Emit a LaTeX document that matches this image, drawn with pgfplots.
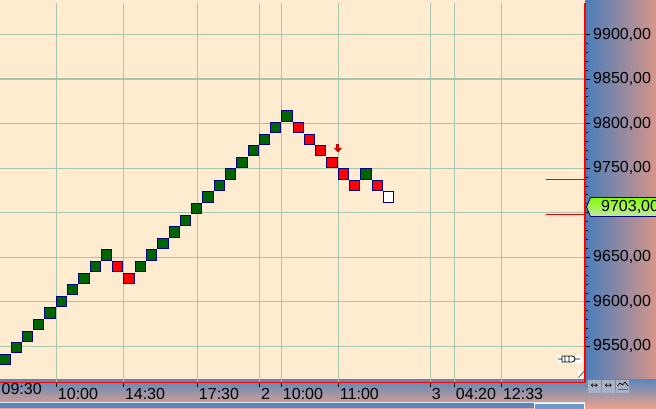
\documentclass[border=0pt]{standalone}
\usepackage{fontspec}
\setmainfont{Liberation Sans}
\newfontfamily\dejavu{DejaVu Sans}
\usepackage{pgfplots}
\pgfplotsset{compat=1.18}
\usetikzlibrary{arrows.meta}
\definecolor{bg}{HTML}{FFEBCF}
\definecolor{gridc}{HTML}{A6C6AE}
\definecolor{stripL}{HTML}{4A7DBA}
\definecolor{stripR}{HTML}{D6958A}
\definecolor{stripT}{HTML}{5787BC}
\definecolor{stripB}{HTML}{EAA28C}
\definecolor{navyb}{HTML}{000080}
\definecolor{rgreen}{HTML}{006400}
\definecolor{rred}{HTML}{FF0000}
\definecolor{arrowred}{HTML}{D00000}
\definecolor{tagtop}{HTML}{80FF00}
\definecolor{tagbot}{HTML}{C4E6A4}
\definecolor{btn}{HTML}{A9B3C6}
\begin{document}
\begin{tikzpicture}[x=1pt,y=1pt]
\useasboundingbox (0,0) rectangle (656,408);
\fill[bg] (0,0) rectangle (656,408);
\shade[left color=stripL, right color=stripR] (585,29) rectangle (656,408);
\shade[top color=stripT, bottom color=stripB] (0,0) rectangle (656,29);
\fill[stripT] (0,0) rectangle (585,6);
\draw[white!80!stripT, line width=0.8pt] (0,6) -- (585,6);
\begin{axis}[
  at={(0,29)}, anchor=south west,
  scale only axis, width=585pt, height=379pt,
  xmin=-0.443, xmax=51.42, ymin=9509.9, ymax=9935.1,
  axis x line*=bottom, axis y line*=right,
  axis line style={rred, line width=1.3pt},
  xtick={4.548,10.488,17.048,22.545,24.495,29.548,37.704,39.832,44.0},
  xticklabels={10:00,14:30,17:30,2,10:00,11:00,3,04:20,12:33},
  extra x ticks={-0.443},
  extra x tick labels={09:30},
  extra x tick style={grid=none, major tick length=0pt},
  ytick={9550,9600,9650,9700,9750,9800,9850,9900},
  yticklabels={{9550,00},{9600,00},{9650,00},{},{9750,00},{9800,00},{9850,00},{9900,00}},
  minor y tick num=4,
  xmajorgrids, ymajorgrids,
  major grid style={gridc, line width=1.1pt},
  tick align=outside,
  major tick length=5pt, minor tick length=2.5pt,
  every tick/.style={black, line width=0.8pt},
  tick label style={font=\fontsize{16}{18}\selectfont, text=black},
  xticklabel style={anchor=north west, inner sep=0pt, xshift=1.5pt, yshift=-0.5pt},
  yticklabel style={anchor=west, inner sep=0pt, xshift=3pt},
  clip=false,
]
% green renko bricks
\addplot[only marks, mark=square*, mark size=5.15pt, mark options={fill=rgreen, draw=navyb, line width=1pt}] coordinates {
(0,9535.5)(1,9548.5)(2,9561.5)(3,9574.5)(4,9587.5)(5,9600.5)(6,9613.5)(7,9626.5)(8,9639.5)(9,9652.5)
(12,9639.5)(13,9652.5)(14,9665.5)(15,9678.5)(16,9691.5)(17,9704.5)(18,9717.5)(19,9730.5)(20,9743.5)
(21,9756.5)(22,9769.5)(23,9782.5)(24,9795.5)(25,9808.5)(32,9743.5)};
% red renko bricks
\addplot[only marks, mark=square*, mark size=5.15pt, mark options={fill=rred, draw=navyb, line width=1pt}] coordinates {
(10,9639.5)(11,9626.5)(26,9795.5)(27,9782.5)(28,9769.5)(29,9756.5)(30,9743.5)(31,9730.5)(33,9730.5)};
% current (open) brick
\addplot[only marks, mark=square*, mark size=5.15pt, mark options={fill=white, draw=navyb, line width=1pt}] coordinates {(34,9717.5)};
% signal arrow
\addplot[arrowred, line width=3pt, -{Triangle[length=4.5pt,width=8pt]}] coordinates {(29.52,9777.5)(29.52,9767.6)};
% short level lines
\addplot[green!50!black, line width=1pt] coordinates {(47.96,9737.7)(51.36,9737.7)};
\addplot[red!90!black, line width=1pt] coordinates {(47.96,9697.8)(51.36,9697.8)};
\end{axis}
% price tag
\draw[navyb, line width=0.8pt, top color=tagtop, bottom color=tagbot] (586.5,201) -- (590.5,210.5) -- (660,210.5) -- (660,191.5) -- (590.5,191.5) -- cycle;
\node[anchor=west, inner sep=0pt, font=\fontsize{16}{18}\selectfont] at (601,201) {9703,00};
% small icons
\fill[white] (557,45) rectangle (582,53);
\draw[black, line width=0.8pt] (558,49) -- (562,49) (565,46) -- (562,46) -- (562,52) -- (565,52) (565,46) rectangle (569,52) (569,46) -- (572,46) arc[start angle=-90, end angle=90, radius=3pt] -- (569,52) (575,49) -- (580,49);
\fill[white] (578,30) rectangle (584.3,37);
\draw[black!70, line width=0.8pt] (578.5,30.5) -- (584,36.5);
% buttons
\foreach \bx in {588,602,616} {\fill[btn] (\bx,15) rectangle ++(13,13);}
\node[font=\dejavu\fontsize{9}{9}\selectfont, inner sep=0pt] at (594.5,21.5) {↔};
\node[font=\dejavu\fontsize{9}{9}\selectfont, inner sep=0pt] at (608.5,21.5) {↔};
\draw[black, line width=0.7pt] (617.5,22) -- (620,25) -- (622.5,23) -- (625,26) -- (628,22);
\draw[black!60, line width=1.5pt] (617.5,18.5) -- (628,18.5);
% scroll thumb
\draw[white, line width=1pt, fill=stripT!85!white] (534,-2) rectangle (584,5);
\end{tikzpicture}
\end{document}
